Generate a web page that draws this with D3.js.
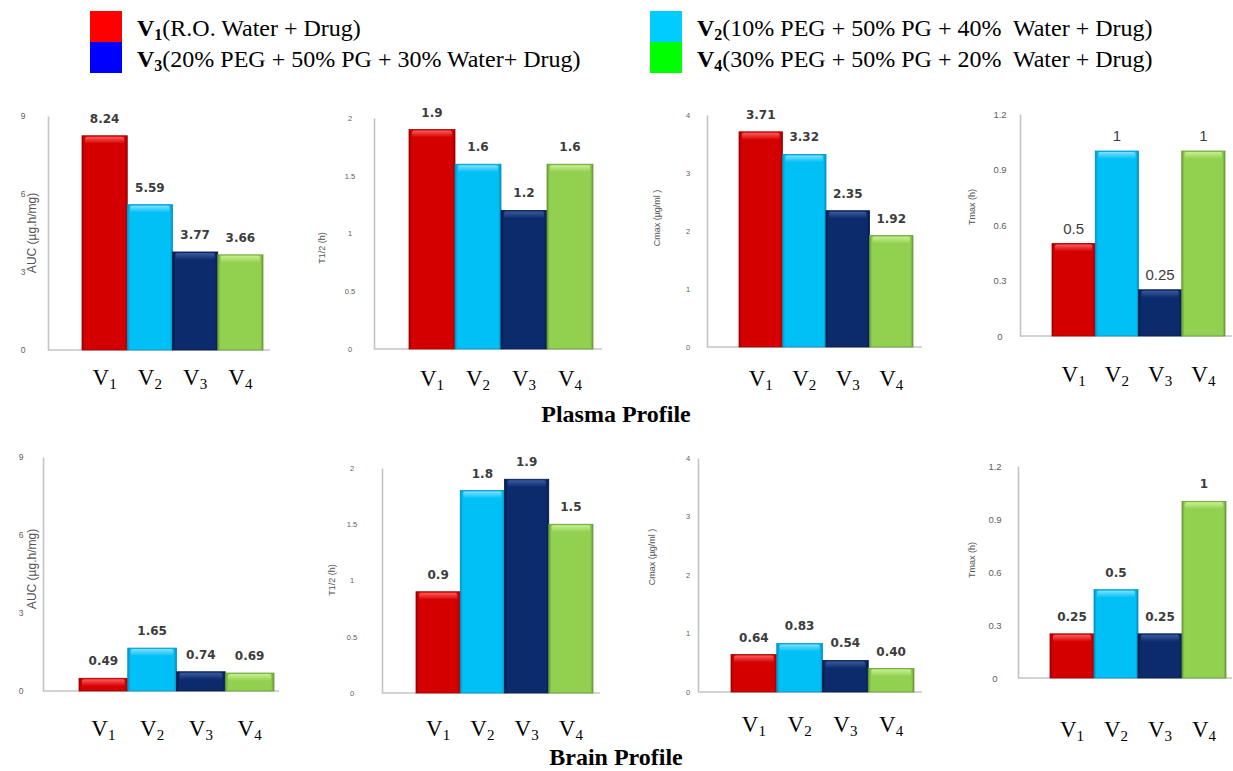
<!DOCTYPE html>
<html><head><meta charset="utf-8">
<script src="https://cdn.jsdelivr.net/npm/d3@7"></script>
<style>body{margin:0;background:#fff} svg{display:block} text{white-space:pre}</style>
</head><body><svg id="c" width="1233" height="771"></svg>
<script>
// ---------- data ----------
const categories = ["V1", "V2", "V3", "V4"];
const legendLabels = [
  "(R.O. Water + Drug)",
  "(10% PEG + 50% PG + 40%  Water + Drug)",
  "(20% PEG + 50% PG + 30% Water+ Drug)",
  "(30% PEG + 50% PG + 20%  Water + Drug)"
];
const sectionTitles = ["Plasma Profile", "Brain Profile"];

const plasmaAUC  = [8.24, 5.59, 3.77, 3.66];
const plasmaT12  = [1.9, 1.6, 1.2, 1.6];
const plasmaCmax = [3.71, 3.32, 2.35, 1.92];
const plasmaTmax = [0.5, 1, 0.25, 1];
const brainAUC   = [0.49, 1.65, 0.74, 0.69];
const brainT12   = [0.9, 1.8, 1.9, 1.5];
const brainCmax  = [0.64, 0.83, 0.54, 0.40];
const brainTmax  = [0.25, 0.5, 0.25, 1];

const aucTicks  = [0, 3, 6, 9];
const t12Ticks  = [0, 0.5, 1, 1.5, 2];
const cmaxTicks = [0, 1, 2, 3, 4];
const tmaxTicks = [0, 0.3, 0.6, 0.9, 1.2];

const axisTitles = ["AUC (µg.h/mg)", "T1/2 (h)", "Cmax (µg/ml )", "Tmax (h)"];

// ---------- styles ----------
const barColors = [
  {main: "#d40000", light: "#ff5a5a", dark: "#9c0000"},
  {main: "#00c0f6", light: "#7fe0ff", dark: "#0590c0"},
  {main: "#0c2b6c", light: "#3a5aa0", dark: "#051a46"},
  {main: "#92d050", light: "#c6f090", dark: "#679a38"}
];
const legendColors = ["#ff0000", "#00ccff", "#0000ff", "#00ff00"];

const svg = d3.select("#c");
const defs = svg.append("defs");
barColors.forEach((c, i) => {
  const g = defs.append("linearGradient").attr("id", "bg" + i).attr("x1", 0).attr("x2", 1).attr("y1", 0).attr("y2", 0);
  g.append("stop").attr("offset", "0%").attr("stop-color", c.dark);
  g.append("stop").attr("offset", "6%").attr("stop-color", c.main);
  g.append("stop").attr("offset", "94%").attr("stop-color", c.main);
  g.append("stop").attr("offset", "100%").attr("stop-color", c.dark);
  const t = defs.append("linearGradient").attr("id", "tg" + i).attr("x1", 0).attr("x2", 0).attr("y1", 0).attr("y2", 1);
  t.append("stop").attr("offset", "0%").attr("stop-color", c.light);
  t.append("stop").attr("offset", "100%").attr("stop-color", c.main);
});

// ---------- panels ----------
const panels = [
  {values: plasmaAUC,  ticks: aucTicks,  title: 0, fmt: ".2f", bold: true,  ax: 48,   ar: 270,  top: 116, base: 350, b0: 82,   b1: 263,  tickX: 23,  ttlX: 33,  ttlY: 233, ttlSize: 12, tickSize: 8.5, labY: 385},
  {values: plasmaT12,  ticks: t12Ticks,  title: 1, fmt: ".1f", bold: true,  ax: 374,  ar: 602,  top: 118, base: 349, b0: 409,  b1: 593,  tickX: 350, ttlX: 323, ttlY: 248, ttlSize: 9,  tickSize: 7.5, labY: 386},
  {values: plasmaCmax, ticks: cmaxTicks, title: 2, fmt: ".2f", bold: true,  ax: 707,  ar: 922,  top: 115, base: 347, b0: 739,  b1: 913,  tickX: 688, ttlX: 658, ttlY: 218, ttlSize: 9,  tickSize: 7.5, labY: 386},
  {values: plasmaTmax, ticks: tmaxTicks, title: 3, fmt: "",    bold: false, ax: 1020, ar: 1232, top: 114, base: 336, b0: 1052, b1: 1225, tickX: 1000, ttlX: 973, ttlY: 207, ttlSize: 9, tickSize: 9.5, labY: 382},
  {values: brainAUC,   ticks: aucTicks,  title: 0, fmt: ".2f", bold: true,  ax: 43,   ar: 279,  top: 457, base: 691, b0: 79,   b1: 274,  tickX: 21,  ttlX: 33,  ttlY: 569, ttlSize: 12, tickSize: 8.5, labY: 736},
  {values: brainT12,   ticks: t12Ticks,  title: 1, fmt: ".1f", bold: true,  ax: 382,  ar: 600,  top: 468, base: 693, b0: 416,  b1: 593,  tickX: 352, ttlX: 333, ttlY: 580, ttlSize: 9,  tickSize: 7.5, labY: 736},
  {values: brainCmax,  ticks: cmaxTicks, title: 2, fmt: ".2f", bold: true,  ax: 698,  ar: 922,  top: 458, base: 692, b0: 731,  b1: 914,  tickX: 688, ttlX: 653, ttlY: 557, ttlSize: 9,  tickSize: 7.5, labY: 732},
  {values: brainTmax,  ticks: tmaxTicks, title: 3, fmt: "",    bold: true,  ax: 1018, ar: 1232, top: 466, base: 678, b0: 1050, b1: 1226, tickX: 995, ttlX: 973, ttlY: 560, ttlSize: 9,  tickSize: 9.5, labY: 737}
];

panels.forEach(p => {
  const g = svg.append("g");
  const y = d3.scaleLinear().domain([0, d3.max(p.ticks)]).range([p.base, p.top]);
  const x = d3.scaleBand().domain(categories).range([p.b0, p.b1]).padding(0);

  // left axis
  const ax = g.append("g").attr("transform", `translate(${p.ax},0)`)
    .call(d3.axisLeft(y).tickValues(p.ticks).tickSize(0).tickSizeOuter(0).tickFormat(d3.format("")));
  ax.select(".domain").attr("stroke", "#c4c4c4").attr("stroke-width", 1.6);
  ax.selectAll(".tick text")
    .attr("x", p.tickX - p.ax).attr("text-anchor", "middle")
    .attr("font-family", "Liberation Sans, Arial, sans-serif")
    .attr("font-size", p.tickSize).attr("fill", "#5e5e5e");

  // baseline
  g.append("line").attr("x1", p.ax).attr("x2", p.ar).attr("y1", y(0)).attr("y2", y(0))
    .attr("stroke", "#c4c4c4").attr("stroke-width", 1.6);

  // axis title
  g.append("text").attr("transform", `translate(${p.ttlX},${p.ttlY}) rotate(-90)`)
    .attr("text-anchor", "middle").attr("dominant-baseline", "middle")
    .attr("font-family", "Liberation Sans, Arial, sans-serif")
    .attr("font-size", p.ttlSize).attr("fill", "#555")
    .text(axisTitles[p.title]);

  // bars
  const bars = g.selectAll(".bar").data(p.values).enter().append("g");
  bars.append("rect")
    .attr("x", (d, i) => x(categories[i])).attr("width", x.bandwidth())
    .attr("y", d => y(d)).attr("height", d => y(0) - y(d))
    .attr("fill", (d, i) => `url(#bg${i})`)
    .attr("stroke", (d, i) => barColors[i].dark).attr("stroke-width", 0.8);
  bars.append("rect")
    .attr("x", (d, i) => x(categories[i]) + 3).attr("width", x.bandwidth() - 6)
    .attr("y", d => y(d) + 1).attr("height", d => Math.min(7, y(0) - y(d) - 2))
    .attr("rx", 2)
    .attr("fill", (d, i) => `url(#tg${i})`);

  // value labels
  const fmt = p.fmt ? d3.format(p.fmt) : (v => String(v));
  bars.append("text")
    .attr("x", (d, i) => x(categories[i]) + x.bandwidth() / 2)
    .attr("y", d => y(d) - (p.bold ? 13 : 10))
    .attr("text-anchor", "middle")
    .attr("font-family", p.bold ? "DejaVu Sans, Verdana, sans-serif" : "Liberation Sans, Arial, sans-serif")
    .attr("font-weight", p.bold ? "bold" : "normal")
    .attr("font-size", p.bold ? 12 : 15)
    .attr("fill", "#3c3c3c")
    .text(d => fmt(d));

  // category labels
  const cl = g.selectAll(".cat").data(categories).enter().append("text")
    .attr("x", d => x(d) + x.bandwidth() / 2).attr("y", p.labY)
    .attr("text-anchor", "middle")
    .attr("font-family", "Liberation Serif, Times New Roman, serif")
    .attr("fill", "#000");
  cl.append("tspan").attr("font-size", 23).text(d => d.charAt(0));
  cl.append("tspan").attr("font-size", 15).attr("dy", 4).text(d => d.slice(1));
});

// ---------- section titles ----------
[422, 765].forEach((yy, i) => {
  svg.append("text").attr("x", 616).attr("y", yy).attr("text-anchor", "middle")
    .attr("font-family", "Liberation Serif, Times New Roman, serif")
    .attr("font-weight", "bold").attr("font-size", 24).attr("fill", "#000")
    .text(sectionTitles[i]);
});

// ---------- legend ----------
const legPos = [
  {sx: 90, sy: 11, tx: 137, ty: 36},
  {sx: 650, sy: 11, tx: 697, ty: 36},
  {sx: 90, sy: 42, tx: 137, ty: 67},
  {sx: 650, sy: 42, tx: 697, ty: 67}
];
legendLabels.forEach((lab, i) => {
  const lp = legPos[i];
  svg.append("rect").attr("x", lp.sx).attr("y", lp.sy).attr("width", 32).attr("height", 31)
    .attr("fill", legendColors[i]);
  const t = svg.append("text").attr("x", lp.tx).attr("y", lp.ty)
    .attr("font-family", "Liberation Serif, Times New Roman, serif").attr("fill", "#000");
  t.append("tspan").attr("font-size", 24).attr("font-weight", "bold").text(categories[i].charAt(0));
  t.append("tspan").attr("font-size", 16).attr("font-weight", "bold").attr("dy", 4).text(categories[i].slice(1));
  t.append("tspan").attr("font-size", 24).attr("dy", -4).text(lab);
});
</script>
</body></html>
